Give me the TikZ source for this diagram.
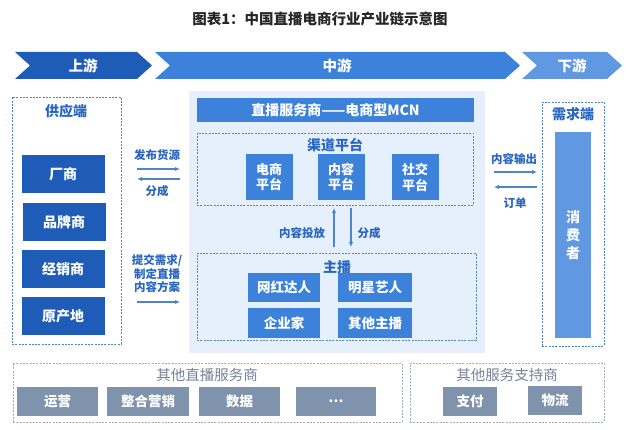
\documentclass[tikz,border=0pt]{standalone}
\usepackage{fontspec}
\setmainfont{Noto Sans CJK SC}
\usetikzlibrary{arrows.meta}

\definecolor{upblue}{RGB}{31,92,184}
\definecolor{midblue}{RGB}{61,130,218}
\definecolor{downblue}{RGB}{96,153,226}
\definecolor{txtblue}{RGB}{42,102,192}
\definecolor{lineblue}{RGB}{80,132,202}
\definecolor{bgblue}{RGB}{230,240,252}
\definecolor{boxgrey}{RGB}{128,147,173}
\definecolor{linegrey}{RGB}{165,172,184}
\definecolor{txtgrey}{RGB}{118,130,150}

\begin{document}
\begin{tikzpicture}[x=1pt, y=-1pt,
    every node/.style={inner sep=0pt, font=\fontsize{12}{14}\selectfont},
    upbox/.style={fill=upblue, text=white, minimum width=83pt, minimum height=38pt, font=\bfseries\fontsize{14}{16}\selectfont},
    midbox/.style={fill=midblue, text=white, font=\bfseries\fontsize{13.5}{15}\selectfont},
    greybox/.style={fill=boxgrey, text=white, minimum height=29pt, font=\bfseries\fontsize{13.5}{15}\selectfont},
    dashbox/.style={draw=lineblue, dashed, dash pattern=on 2pt off 1.3pt, line width=0.9pt},
    greydash/.style={draw=linegrey, dashed, dash pattern=on 2pt off 1.3pt, line width=0.9pt},
    lbl/.style={text=txtblue, font=\bfseries\fontsize{14}{16}\selectfont},
    arrlbl/.style={text=txtblue, align=center, font=\bfseries\fontsize{11.5}{13.5}\selectfont},
    arr/.style={draw=lineblue, line width=1.2pt, -{Latex[length=5pt,width=4.5pt]}}]
  \useasboundingbox (0,0) rectangle (640,430);

  % Title
  \node[font=\bfseries\fontsize{14.5}{16}\selectfont, text=black!85] (title) at (320,19) {图表1：中国直播电商行业产业链示意图};

  % Chevrons
  \fill[upblue] (15,52) -- (137,52) -- (152,65.5) -- (137,79) -- (15,79) -- (30,65.5) -- cycle;
  \fill[midblue] (155,52) -- (505,52) -- (520,65.5) -- (505,79) -- (155,79) -- (170,65.5) -- cycle;
  \fill[downblue] (522,52) -- (607,52) -- (622,65.5) -- (607,79) -- (522,79) -- (537,65.5) -- cycle;
  \node[text=white, font=\bfseries\fontsize{14.5}{16}\selectfont] (up) at (83,66) {上游};
  \node[text=white, font=\bfseries\fontsize{14.5}{16}\selectfont] (mid) at (337,66) {中游};
  \node[text=white, font=\bfseries\fontsize{14.5}{16}\selectfont] (down) at (572,66) {下游};

  % Supply side
  \node[dashbox, minimum width=109pt, minimum height=247pt] (supply) at (66.5,220.5) {};
  \node[lbl] (supplylbl) at (66,111) {供应端};
  \node[upbox] (maker) at (63,174) {厂商};
  \node[upbox] (brand) at (64,222) {品牌商};
  \node[upbox] (dealer) at (63,269.5) {经销商};
  \node[upbox] (origin) at (63,316) {原产地};

  % Arrows supply <-> middle
  \coordinate (s1a) at (137,169); \coordinate (s1b) at (180,169);
  \coordinate (s2a) at (180,179); \coordinate (s2b) at (137,179);
  \coordinate (s3a) at (137,302); \coordinate (s3b) at (180,302);
  \draw[arr] (s1a) -- (s1b);
  \draw[arr] (s2a) -- (s2b);
  \draw[arr] (s3a) -- (s3b);
  \node[arrlbl] (publish) at (157,155) {发布货源};
  \node[arrlbl] (share1) at (157,191) {分成};
  \node[arrlbl] (submit) at (157,274) {提交需求/\\制定直播\\内容方案};

  % Middle stream
  \fill[bgblue] (189,91) rectangle (485,353);
  \node[midbox, minimum width=277pt, minimum height=24pt, font=\bfseries\fontsize{14}{16}\selectfont] (mcn) at (335.5,110) {直播服务商——电商型MCN};

  \node[dashbox, minimum width=276pt, minimum height=72pt] (channel) at (335,169) {};
  \node[lbl] (channellbl) at (335,145) {渠道平台};
  \node[midbox, align=center, minimum width=47pt, minimum height=46pt, font=\bfseries\fontsize{13}{15.5}\selectfont] (ecom) at (269,177) {电商\\平台};
  \node[midbox, align=center, minimum width=47pt, minimum height=46pt, font=\bfseries\fontsize{13}{15.5}\selectfont] (content) at (341,177) {内容\\平台};
  \node[midbox, align=center, minimum width=47pt, minimum height=46pt, font=\bfseries\fontsize{13}{15.5}\selectfont] (social) at (415,177.5) {社交\\平台};

  \node[dashbox, minimum width=279pt, minimum height=87pt] (anchor) at (336.5,296.5) {};
  \node[lbl] (anchorlbl) at (337,267) {主播};
  \node[midbox, minimum width=72pt, minimum height=29pt] (influencer) at (284,287.5) {网红达人};
  \node[midbox, minimum width=74pt, minimum height=29pt] (star) at (375,287.5) {明星艺人};
  \node[midbox, minimum width=72pt, minimum height=30pt] (boss) at (284,323) {企业家};
  \node[midbox, minimum width=74pt, minimum height=30pt] (others) at (375,323) {其他主播};

  % Arrows anchor <-> channel
  \coordinate (v1a) at (334,247); \coordinate (v1b) at (334,208);
  \coordinate (v2a) at (351,208); \coordinate (v2b) at (351,247);
  \draw[arr] (v1a) -- (v1b);
  \draw[arr] (v2a) -- (v2b);
  \node[arrlbl] (deliver) at (302,233) {内容投放};
  \node[arrlbl] (share2) at (369,233) {分成};

  % Arrows middle <-> demand
  \coordinate (d1a) at (494,172); \coordinate (d1b) at (537,172);
  \coordinate (d2a) at (537,187); \coordinate (d2b) at (494,187);
  \draw[arr] (d1a) -- (d1b);
  \draw[arr] (d2a) -- (d2b);
  \node[arrlbl] (output) at (514,159) {内容输出};
  \node[arrlbl] (order) at (515,203) {订单};

  % Demand side
  \node[dashbox, minimum width=62pt, minimum height=244pt] (demand) at (573,224) {};
  \node[lbl] (demandlbl) at (573,114) {需求端};
  \node[fill=downblue, text=white, align=center, minimum width=36pt, minimum height=206pt, font=\bfseries\fontsize{14}{18}\selectfont] (consumer) at (573,235) {消\\费\\者};

  % Other service providers
  \node[greydash, minimum width=389pt, minimum height=59pt] (otherlive) at (207.5,392.5) {};
  \node[text=txtgrey, font=\fontsize{14.5}{16}\selectfont] (otherlivelbl) at (207,375) {其他直播服务商};
  \node[greybox, minimum width=81pt] (ops) at (57.5,401.5) {运营};
  \node[greybox, minimum width=82pt] (market) at (148,401.5) {整合营销};
  \node[greybox, minimum width=81pt] (data) at (239.5,401.5) {数据};
  \node[greybox, minimum width=80pt] (etc) at (336,401.5) {…};

  \node[greydash, minimum width=194pt, minimum height=59pt] (support) at (507,392.5) {};
  \node[text=txtgrey, font=\fontsize{14.5}{16}\selectfont] (supportlbl) at (507,375) {其他服务支持商};
  \node[greybox, minimum width=54pt] (pay) at (470,401.5) {支付};
  \node[greybox, minimum width=54pt] (logistics) at (555,400.5) {物流};
\end{tikzpicture}
\end{document}
